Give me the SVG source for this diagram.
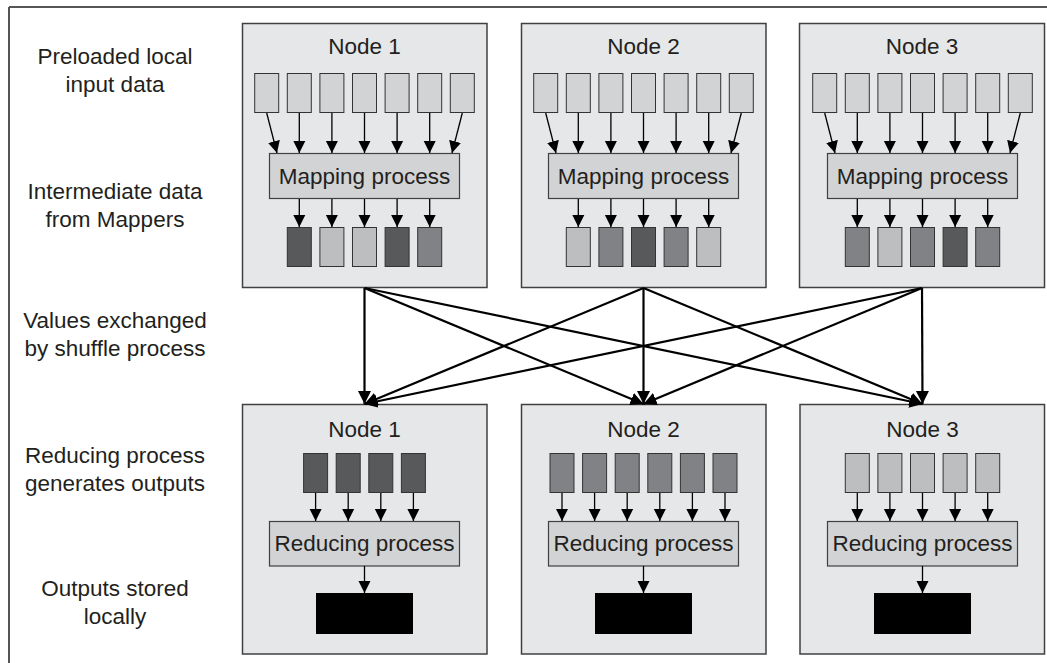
<svg xmlns="http://www.w3.org/2000/svg" width="1047" height="663" viewBox="0 0 1047 663">
<style>
text{font-family:"Liberation Sans",Arial,sans-serif;font-size:22.5px;fill:#231f20;text-anchor:middle}
.node{fill:#e6e7e8;stroke:#404041;stroke-width:1.5}
.in{fill:#d1d3d4;stroke:#333;stroke-width:1}
.lt{fill:#bcbec0;stroke:#333;stroke-width:1}
.md{fill:#808285;stroke:#333;stroke-width:1}
.dk{fill:#58595b;stroke:#333;stroke-width:1}
.proc{fill:#d1d3d4;stroke:#404041;stroke-width:1.2}
.out{fill:#000}
.s{stroke:#000;stroke-width:1.3;fill:none;marker-end:url(#sm)}
.b{stroke:#000;stroke-width:2.2;fill:none;marker-end:url(#bg)}
</style>
<defs>
<marker id="sm" markerUnits="userSpaceOnUse" markerWidth="13" markerHeight="13" refX="12" refY="6.5" orient="auto" viewBox="0 0 13 13"><path d="M0,0.5 L12,6.5 L0,12.5 z" fill="#000"/></marker>
<marker id="bg" markerUnits="userSpaceOnUse" markerWidth="14" markerHeight="14" refX="13" refY="7" orient="auto" viewBox="0 0 14 14"><path d="M0,0.5 L13,7 L0,13.5 z" fill="#000"/></marker>
</defs>
<rect width="1047" height="663" fill="#fff"/>
<g id="frame" stroke="#555" stroke-width="2" fill="none">
<line x1="9" y1="7" x2="1047" y2="7"/>
<line x1="9" y1="7" x2="9" y2="663"/>
</g>
<g id="labels">
<text x="115" y="64">Preloaded local</text>
<text x="115" y="92">input data</text>
<text x="115" y="199">Intermediate data</text>
<text x="115" y="227">from Mappers</text>
<text x="115" y="328">Values exchanged</text>
<text x="115" y="356">by shuffle process</text>
<text x="115" y="463">Reducing process</text>
<text x="115" y="491">generates outputs</text>
<text x="115" y="596">Outputs stored</text>
<text x="115" y="624">locally</text>
</g>
<g id="map1">
<rect class="node" x="242.5" y="23.5" width="244.5" height="264"/>
<text x="364.5" y="54">Node 1</text>
<rect class="in" x="254.7" y="73.5" width="24" height="39"/><rect class="in" x="287.3" y="73.5" width="24" height="39"/><rect class="in" x="319.9" y="73.5" width="24" height="39"/><rect class="in" x="352.5" y="73.5" width="24" height="39"/><rect class="in" x="385.1" y="73.5" width="24" height="39"/><rect class="in" x="417.7" y="73.5" width="24" height="39"/><rect class="in" x="450.3" y="73.5" width="24" height="39"/>
<rect class="proc" x="269.5" y="153.5" width="190" height="45"/>
<text x="364.5" y="184">Mapping process</text>
<rect class="dk" x="287.3" y="227.5" width="24" height="39"/><rect class="lt" x="319.9" y="227.5" width="24" height="39"/><rect class="lt" x="352.5" y="227.5" width="24" height="39"/><rect class="dk" x="385.1" y="227.5" width="24" height="39"/><rect class="md" x="417.7" y="227.5" width="24" height="39"/>
<g>
<line class="s" x1="266.7" y1="113" x2="277" y2="153"/><line class="s" x1="299.3" y1="113" x2="299.3" y2="153"/><line class="s" x1="331.9" y1="113" x2="331.9" y2="153"/><line class="s" x1="364.5" y1="113" x2="364.5" y2="153"/><line class="s" x1="397.1" y1="113" x2="397.1" y2="153"/><line class="s" x1="429.7" y1="113" x2="429.7" y2="153"/><line class="s" x1="462.3" y1="113" x2="452" y2="153"/>
<line class="s" x1="299.3" y1="199" x2="299.3" y2="227"/><line class="s" x1="331.9" y1="199" x2="331.9" y2="227"/><line class="s" x1="364.5" y1="199" x2="364.5" y2="227"/><line class="s" x1="397.1" y1="199" x2="397.1" y2="227"/><line class="s" x1="429.7" y1="199" x2="429.7" y2="227"/>
</g>
</g>
<g id="map2">
<rect class="node" x="521.5" y="23.5" width="244.5" height="264"/>
<text x="643.5" y="54">Node 2</text>
<rect class="in" x="533.7" y="73.5" width="24" height="39"/><rect class="in" x="566.3" y="73.5" width="24" height="39"/><rect class="in" x="598.9" y="73.5" width="24" height="39"/><rect class="in" x="631.5" y="73.5" width="24" height="39"/><rect class="in" x="664.1" y="73.5" width="24" height="39"/><rect class="in" x="696.7" y="73.5" width="24" height="39"/><rect class="in" x="729.3" y="73.5" width="24" height="39"/>
<rect class="proc" x="548.5" y="153.5" width="190" height="45"/>
<text x="643.5" y="184">Mapping process</text>
<rect class="lt" x="566.3" y="227.5" width="24" height="39"/><rect class="md" x="598.9" y="227.5" width="24" height="39"/><rect class="dk" x="631.5" y="227.5" width="24" height="39"/><rect class="md" x="664.1" y="227.5" width="24" height="39"/><rect class="lt" x="696.7" y="227.5" width="24" height="39"/>
<g>
<line class="s" x1="545.7" y1="113" x2="556" y2="153"/><line class="s" x1="578.3" y1="113" x2="578.3" y2="153"/><line class="s" x1="610.9" y1="113" x2="610.9" y2="153"/><line class="s" x1="643.5" y1="113" x2="643.5" y2="153"/><line class="s" x1="676.1" y1="113" x2="676.1" y2="153"/><line class="s" x1="708.7" y1="113" x2="708.7" y2="153"/><line class="s" x1="741.3" y1="113" x2="731" y2="153"/>
<line class="s" x1="578.3" y1="199" x2="578.3" y2="227"/><line class="s" x1="610.9" y1="199" x2="610.9" y2="227"/><line class="s" x1="643.5" y1="199" x2="643.5" y2="227"/><line class="s" x1="676.1" y1="199" x2="676.1" y2="227"/><line class="s" x1="708.7" y1="199" x2="708.7" y2="227"/>
</g>
</g>
<g id="map3">
<rect class="node" x="799.5" y="23.5" width="245" height="264"/>
<text x="922" y="54">Node 3</text>
<rect class="in" x="812.7" y="73.5" width="24" height="39"/><rect class="in" x="845.3" y="73.5" width="24" height="39"/><rect class="in" x="877.9" y="73.5" width="24" height="39"/><rect class="in" x="910.5" y="73.5" width="24" height="39"/><rect class="in" x="943.1" y="73.5" width="24" height="39"/><rect class="in" x="975.7" y="73.5" width="24" height="39"/><rect class="in" x="1008.3" y="73.5" width="24" height="39"/>
<rect class="proc" x="827.5" y="153.5" width="190" height="45"/>
<text x="922.5" y="184">Mapping process</text>
<rect class="md" x="845.3" y="227.5" width="24" height="39"/><rect class="lt" x="877.9" y="227.5" width="24" height="39"/><rect class="md" x="910.5" y="227.5" width="24" height="39"/><rect class="dk" x="943.1" y="227.5" width="24" height="39"/><rect class="md" x="975.7" y="227.5" width="24" height="39"/>
<g>
<line class="s" x1="824.7" y1="113" x2="835" y2="153"/><line class="s" x1="857.3" y1="113" x2="857.3" y2="153"/><line class="s" x1="889.9" y1="113" x2="889.9" y2="153"/><line class="s" x1="922.5" y1="113" x2="922.5" y2="153"/><line class="s" x1="955.1" y1="113" x2="955.1" y2="153"/><line class="s" x1="987.7" y1="113" x2="987.7" y2="153"/><line class="s" x1="1020.3" y1="113" x2="1010" y2="153"/>
<line class="s" x1="857.3" y1="199" x2="857.3" y2="227"/><line class="s" x1="889.9" y1="199" x2="889.9" y2="227"/><line class="s" x1="922.5" y1="199" x2="922.5" y2="227"/><line class="s" x1="955.1" y1="199" x2="955.1" y2="227"/><line class="s" x1="987.7" y1="199" x2="987.7" y2="227"/>
</g>
</g>
<g id="red1">
<rect class="node" x="242.5" y="404.5" width="244.5" height="249.5"/>
<text x="364.5" y="437">Node 1</text>
<rect class="dk" x="303.6" y="453.5" width="24" height="39"/><rect class="dk" x="336.2" y="453.5" width="24" height="39"/><rect class="dk" x="368.8" y="453.5" width="24" height="39"/><rect class="dk" x="401.4" y="453.5" width="24" height="39"/>
<rect class="proc" x="269.5" y="521.5" width="190" height="44.5"/>
<text x="364.5" y="551">Reducing process</text>
<rect class="out" x="316" y="593" width="97" height="41"/>
<g>
<line class="s" x1="315.6" y1="493" x2="315.6" y2="521"/><line class="s" x1="348.2" y1="493" x2="348.2" y2="521"/><line class="s" x1="380.8" y1="493" x2="380.8" y2="521"/><line class="s" x1="413.4" y1="493" x2="413.4" y2="521"/>
<line class="s" x1="364.5" y1="566" x2="364.5" y2="593"/>
</g>
</g>
<g id="red2">
<rect class="node" x="521.5" y="404.5" width="244.5" height="249.5"/>
<text x="643.5" y="437">Node 2</text>
<rect class="md" x="550" y="453.5" width="24" height="39"/><rect class="md" x="582.6" y="453.5" width="24" height="39"/><rect class="md" x="615.2" y="453.5" width="24" height="39"/><rect class="md" x="647.8" y="453.5" width="24" height="39"/><rect class="md" x="680.4" y="453.5" width="24" height="39"/><rect class="md" x="713" y="453.5" width="24" height="39"/>
<rect class="proc" x="548.5" y="521.5" width="190" height="44.5"/>
<text x="643.5" y="551">Reducing process</text>
<rect class="out" x="595" y="593" width="97" height="41"/>
<g>
<line class="s" x1="562" y1="493" x2="562" y2="521"/><line class="s" x1="594.6" y1="493" x2="594.6" y2="521"/><line class="s" x1="627.2" y1="493" x2="627.2" y2="521"/><line class="s" x1="659.8" y1="493" x2="659.8" y2="521"/><line class="s" x1="692.4" y1="493" x2="692.4" y2="521"/><line class="s" x1="725" y1="493" x2="725" y2="521"/>
<line class="s" x1="643.5" y1="566" x2="643.5" y2="593"/>
</g>
</g>
<g id="red3">
<rect class="node" x="800" y="404.5" width="244.5" height="249.5"/>
<text x="922.5" y="437">Node 3</text>
<rect class="lt" x="845.3" y="453.5" width="24" height="39"/><rect class="lt" x="877.9" y="453.5" width="24" height="39"/><rect class="lt" x="910.5" y="453.5" width="24" height="39"/><rect class="lt" x="943.1" y="453.5" width="24" height="39"/><rect class="lt" x="975.7" y="453.5" width="24" height="39"/>
<rect class="proc" x="827.5" y="521.5" width="190" height="44.5"/>
<text x="922.5" y="551">Reducing process</text>
<rect class="out" x="874" y="593" width="97" height="41"/>
<g>
<line class="s" x1="857.3" y1="493" x2="857.3" y2="521"/><line class="s" x1="889.9" y1="493" x2="889.9" y2="521"/><line class="s" x1="922.5" y1="493" x2="922.5" y2="521"/><line class="s" x1="955.1" y1="493" x2="955.1" y2="521"/><line class="s" x1="987.7" y1="493" x2="987.7" y2="521"/>
<line class="s" x1="922.5" y1="566" x2="922.5" y2="593"/>
</g>
</g>
<g id="shuffle">
<line class="b" x1="364.5" y1="288" x2="364.5" y2="404"/>
<line class="b" x1="364.5" y1="288" x2="643.5" y2="404"/>
<line class="b" x1="364.5" y1="288" x2="922.5" y2="404"/>
<line class="b" x1="643.5" y1="288" x2="364.5" y2="404"/>
<line class="b" x1="643.5" y1="288" x2="643.5" y2="404"/>
<line class="b" x1="643.5" y1="288" x2="922.5" y2="404"/>
<line class="b" x1="922" y1="288" x2="364.5" y2="404"/>
<line class="b" x1="922" y1="288" x2="643.5" y2="404"/>
<line class="b" x1="922" y1="288" x2="922.5" y2="404"/>
</g>
</svg>
